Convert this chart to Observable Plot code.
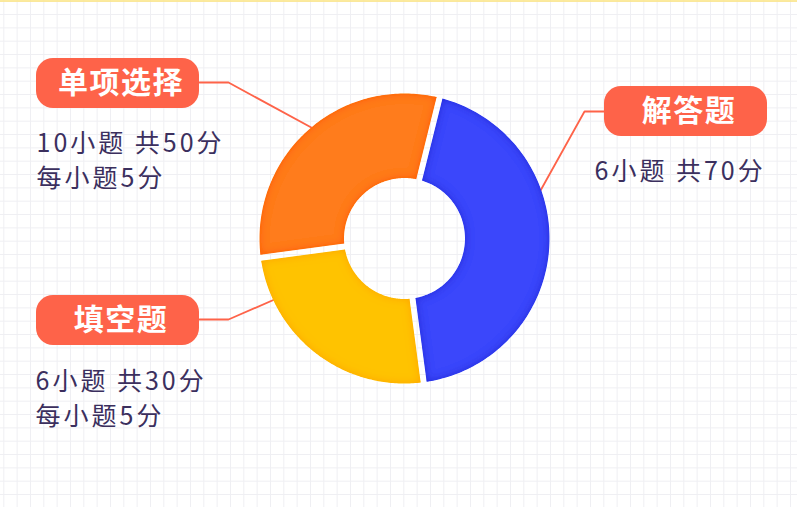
<!DOCTYPE html>
<html><head><meta charset="utf-8">
<script src="https://cdn.jsdelivr.net/npm/d3@7"></script>
<script src="https://cdn.jsdelivr.net/npm/@observablehq/plot@0.6"></script>
<style>
html,body{margin:0;padding:0;background:#fff;}
#chart svg{display:block;}
</style></head><body><div id="chart"></div>
<script>
// ---- data ----
const categories = ["解答题", "填空题", "单项选择"];
const sliceShares = [44, 25, 31];          // share of the ring, percent (as drawn)
const questionCounts = [6, 6, 10];
const totalPoints = [70, 30, 50];
const pointsEach = [null, 5, 5];

// ---- style / layout ----
const W = 797, H = 507;
const cx = 404, cy = 238, R = 145, R0 = 60.5, gapHalf = 3;
const startDeg = 14;
const fills = ["#3a46fb", "#ffc300", "#ff7b1b"];
const edges = ["#1e22d6", "#ffa200", "#ff5408"];
const coral = "#fe6349";
const ink = "#3b2f5e";
const bodySize = 25, badgeSize = 30;
const layout = {
  "单项选择": {box: [36, 58, 199, 108], tx: 36, ty: 143, line: [[199, 82], [228, 82], [320, 132]]},
  "解答题":   {box: [604, 86, 767, 136], tx: 594, ty: 171, line: [[604, 111], [584, 111], [530, 208]]},
  "填空题":   {box: [36, 295, 199, 345], tx: 35, ty: 381, line: [[199, 319], [228, 319], [290, 292]]}
};

// ---- build slice polygons from the shares ----
const total = d3.sum(sliceShares);
const rad = d => d * Math.PI / 180;
let acc = rad(startDeg);
const slicePts = [];
categories.forEach((c, i) => {
  const a0 = acc, a1 = acc + sliceShares[i] / total * 2 * Math.PI;
  acc = a1;
  const n = 120;
  const oo = Math.asin(gapHalf / R), io = Math.asin(gapHalf / R0);
  for (let k = 0; k <= n; k++) {
    const a = (a0 + oo) + (a1 - a0 - 2 * oo) * k / n;
    slicePts.push({cat: c, x: cx + R * Math.sin(a), y: cy - R * Math.cos(a)});
  }
  for (let k = n; k >= 0; k--) {
    const a = (a0 + io) + (a1 - a0 - 2 * io) * k / n;
    slicePts.push({cat: c, x: cx + R0 * Math.sin(a), y: cy - R0 * Math.cos(a)});
  }
});

const boxes = categories.map(c => ({cat: c, x1: layout[c].box[0], y1: layout[c].box[1], x2: layout[c].box[2], y2: layout[c].box[3]}));
const leaders = categories.flatMap(c => layout[c].line.map(([x, y]) => ({cat: c, x, y})));
const bodyLines = categories.flatMap((c, i) => {
  const lines = [`${questionCounts[i]}小题 共${totalPoints[i]}分`];
  if (pointsEach[i] != null) lines.push(`每小题${pointsEach[i]}分`);
  return lines.map((t, j) => ({text: t, x: layout[c].tx, y: layout[c].ty + j * 35}));
});

const gridX = d3.range(3.3, W, 40 / 3);
const gridY = d3.range(0.7, H, 40 / 3);

const defs = () => {
  const d = d3.create("svg:defs");
  categories.forEach((c, i) => {
    const f = d.append("filter").attr("id", "inset" + i)
      .attr("x", "-10%").attr("y", "-10%").attr("width", "120%").attr("height", "120%");
    f.append("feGaussianBlur").attr("in", "SourceAlpha").attr("stdDeviation", 4).attr("result", "blur");
    f.append("feComposite").attr("in", "SourceAlpha").attr("in2", "blur").attr("operator", "arithmetic")
      .attr("k2", 1).attr("k3", -1).attr("result", "edge");
    f.append("feFlood").attr("flood-color", edges[i]).attr("flood-opacity", 1).attr("result", "col");
    f.append("feComposite").attr("in", "col").attr("in2", "edge").attr("operator", "in").attr("result", "shadow");
    const m = f.append("feMerge");
    m.append("feMergeNode").attr("in", "SourceGraphic");
    m.append("feMergeNode").attr("in", "shadow");
  });
  return d.node();
};

const chart = Plot.plot({
  width: W, height: H, margin: 0,
  x: {domain: [0, W], range: [0, W], axis: null},
  y: {domain: [0, H], range: [0, H], axis: null},
  style: {background: "#ffffff", fontFamily: "'Noto Sans CJK SC', 'Noto Sans', sans-serif"},
  marks: [
    defs,
    Plot.ruleX(gridX, {stroke: "#efeff3", strokeWidth: 1}),
    Plot.ruleY(gridY, {stroke: "#efeff3", strokeWidth: 1}),
    Plot.ruleY([0.5], {stroke: "#fde47e", strokeWidth: 1.5}),
    Plot.line(leaders, {x: "x", y: "y", z: "cat", stroke: coral, strokeWidth: 1.8}),
    ...categories.map((c, i) => Plot.line(slicePts.filter(p => p.cat === c), {
      x: "x", y: "y", fill: fills[i], stroke: "none", imageFilter: `url(#inset${i})`
    })),
    Plot.rect(boxes, {x1: "x1", y1: "y1", x2: "x2", y2: "y2", fill: coral, rx: 17}),
    Plot.text(boxes, {x: d => (d.x1 + d.x2) / 2 + 3, y: d => (d.y1 + d.y2) / 2, text: "cat",
      fill: "#fff", fontSize: badgeSize, fontWeight: "bold"}),
    Plot.text(bodyLines, {x: "x", y: "y", text: "text", textAnchor: "start",
      fill: ink, fontSize: bodySize})
  ]
});
// widen the letter spacing as in the picture
d3.select(chart).selectAll(`g[font-size="${bodySize}"] text`)
  .attr("letter-spacing", "3").style("letter-spacing", "3px");
d3.select(chart).selectAll(`g[font-size="${badgeSize}"] text`)
  .attr("letter-spacing", "1.5").style("letter-spacing", "1.5px");
document.getElementById("chart").appendChild(chart);
</script></body></html>
